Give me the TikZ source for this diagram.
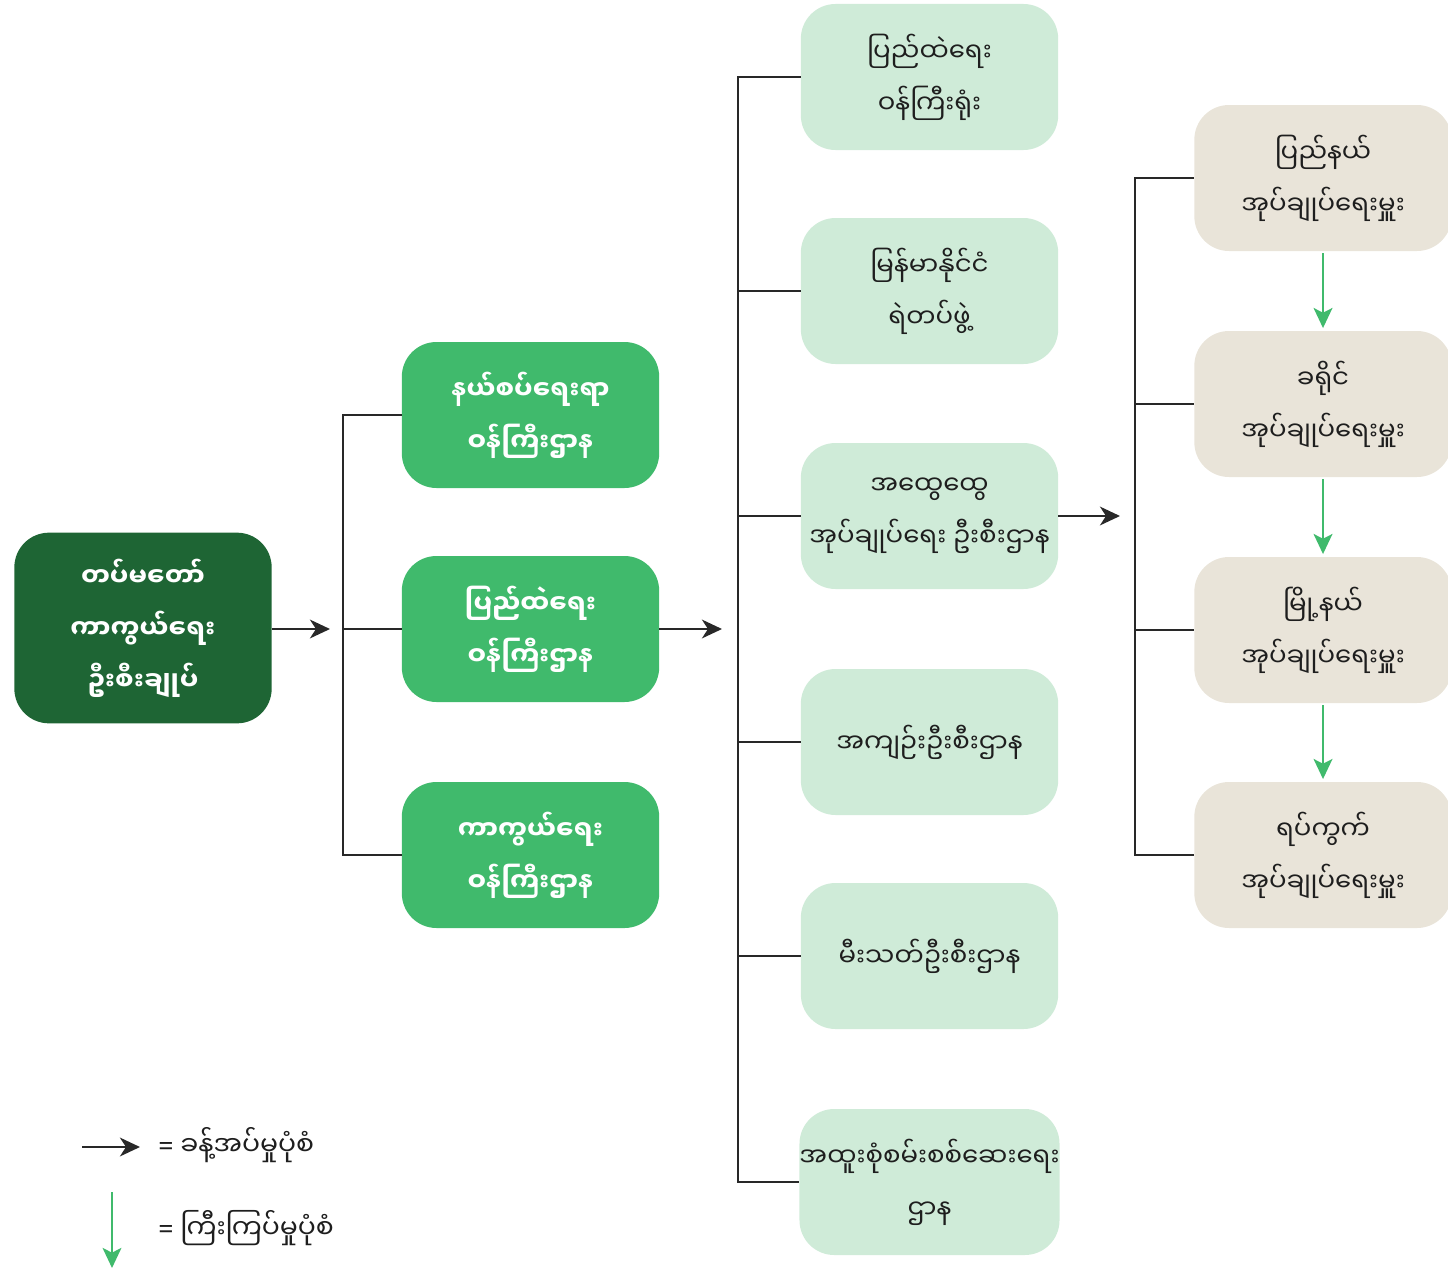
\documentclass[tikz,border=0pt]{standalone}
\usepackage{fontspec}
\newfontfamily\mm[Script=Myanmar]{Noto Sans Myanmar UI}
\newfontfamily\latinf{Noto Sans}
\usetikzlibrary{arrows.meta}
\definecolor{darkg}{RGB}{30,101,52}
\definecolor{midg}{RGB}{64,186,108}
\definecolor{lightg}{RGB}{207,235,216}
\definecolor{beige}{RGB}{233,228,217}
\definecolor{linec}{RGB}{40,40,40}
\definecolor{txt}{RGB}{30,30,30}
\tikzset{
  box/.style={rounded corners=26pt, minimum width=193pt, minimum height=109.5pt,
    align=center, inner sep=0pt, font=\mm\fontsize{19.5}{39}\selectfont},
  topbox/.style={box, fill=darkg, text=white, minimum height=143pt, font=\mm\bfseries\fontsize{19.5}{39}\selectfont},
  minbox/.style={box, fill=midg, text=white, font=\mm\bfseries\fontsize{19.5}{39}\selectfont},
  deptbox/.style={box, fill=lightg, text=txt},
  admbox/.style={box, fill=beige, text=txt},
  conn/.style={draw=linec, line width=2.2pt},
  blackarrow/.style={draw=linec, line width=2.2pt, -{Stealth[length=15pt,width=14pt,inset=4.5pt]}},
  greenarrow/.style={draw=midg, line width=2.2pt, -{Stealth[length=15pt,width=14pt,inset=3.5pt]}},
  legtext/.style={anchor=west, inner sep=0pt, text=txt, font=\mm\fontsize{20}{30}\selectfont}
}
\begin{document}
\begin{tikzpicture}[x=0.75pt,y=-0.75pt]
\useasboundingbox (0,0) rectangle (1448,1270);
% top
\node[topbox] (top) at (143,628) {တပ်မတော်\\ကာကွယ်ရေး\\ဦးစီးချုပ်};
% ministries
\node[minbox] (b1) at (530.5,415) {နယ်စပ်ရေးရာ\\ဝန်ကြီးဌာန};
\node[minbox] (b2) at (530.5,629) {ပြည်ထဲရေး\\ဝန်ကြီးဌာန};
\node[minbox] (b3) at (530.5,855) {ကာကွယ်ရေး\\ဝန်ကြီးဌာန};
% departments
\node[deptbox] (c1) at (929.5,77) {ပြည်ထဲရေး\\ဝန်ကြီးရုံး};
\node[deptbox] (c2) at (929.5,291) {မြန်မာနိုင်ငံ\\ရဲတပ်ဖွဲ့};
\node[deptbox] (c3) at (929.5,516) {အထွေထွေ\\အုပ်ချုပ်ရေး ဦးစီးဌာန};
\node[deptbox] (c4) at (929.5,742) {အကျဉ်းဦးစီးဌာန};
\node[deptbox] (c5) at (929.5,956) {မီးသတ်ဦးစီးဌာန};
\node[deptbox] (c6) at (929.5,1182) {အထူးစုံစမ်းစစ်ဆေးရေး\\ဌာန};
% administrators
\node[admbox] (d1) at (1323,178) {ပြည်နယ်\\အုပ်ချုပ်ရေးမှူး};
\node[admbox] (d2) at (1323,404) {ခရိုင်\\အုပ်ချုပ်ရေးမှူး};
\node[admbox] (d3) at (1323,630) {မြို့နယ်\\အုပ်ချုပ်ရေးမှူး};
\node[admbox] (d4) at (1323,855) {ရပ်ကွက်\\အုပ်ချုပ်ရေးမှူး};
% junctions and arrow ends
\coordinate (a1) at (330,629);
\coordinate (j1) at (343,629);
\coordinate (a2) at (722,629);
\coordinate (j2) at (738,629);
\coordinate (a3) at (1120,516);
\coordinate (j3) at (1135,516);
% arrows
\draw[blackarrow] (top.east |- a1) -- (a1);
\draw[blackarrow] (b2.east) -- (a2);
\draw[blackarrow] (c3.east) -- (a3);
% brackets
\draw[conn] (b1.west) -| (j1) |- (b3.west);
\draw[conn] (j1) -- (b2.west);
\draw[conn] (c1.west) -| (j2) |- (c6.west);
\draw[conn] (j2 |- c2.west) -- (c2.west);
\draw[conn] (j2 |- c3.west) -- (c3.west);
\draw[conn] (j2 |- c4.west) -- (c4.west);
\draw[conn] (j2 |- c5.west) -- (c5.west);
\draw[conn] (d1.west) -| (j3) |- (d4.west);
\draw[conn] (j3 |- d2.west) -- (d2.west);
\draw[conn] (j3 |- d3.west) -- (d3.west);
% supervision arrows
\draw[greenarrow] ([yshift=-1.5pt]d1.south) -- ([yshift=2pt]d2.north);
\draw[greenarrow] ([yshift=-1.5pt]d2.south) -- ([yshift=2pt]d3.north);
\draw[greenarrow] ([yshift=-1.5pt]d3.south) -- ([yshift=2pt]d4.north);
% legend
\coordinate (l1s) at (82,1147);
\coordinate (l1e) at (140,1147);
\coordinate (l2s) at (112,1192);
\coordinate (l2e) at (112,1268);
\draw[blackarrow] (l1s) -- (l1e);
\draw[greenarrow] (l2s) -- (l2e);
\node[legtext] (lt1) at (158,1145) {{\latinf=}\ ခန့်အပ်မှုပုံစံ};
\node[legtext] (lt2) at (158,1228) {{\latinf=}\ ကြီးကြပ်မှုပုံစံ};
\end{tikzpicture}
\end{document}
